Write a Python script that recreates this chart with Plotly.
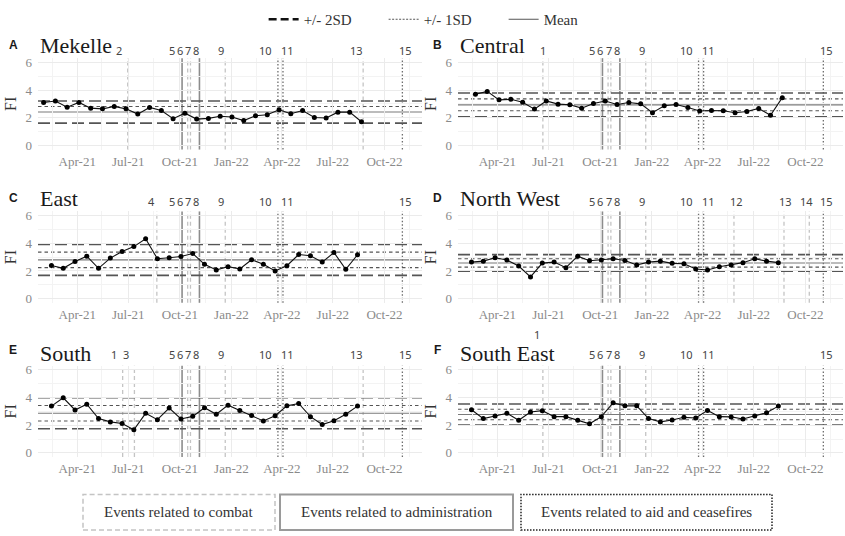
import pandas as pd
import plotly.graph_objects as go

# ---------------- data ----------------
regions = ["Mekelle", "Central", "East", "North West", "South", "South East"]
tags = ["A", "B", "C", "D", "E", "F"]
start_dates = ["2021-01-31", "2021-02-21", "2021-02-14", "2021-02-14", "2021-02-14", "2021-02-14"]
step_days = 21

fi_mekelle = [3.10, 3.21, 2.76, 3.10, 2.69, 2.64, 2.81, 2.64, 2.26, 2.74, 2.52, 1.93, 2.33, 1.90,
              1.95, 2.10, 2.05, 1.79, 2.14, 2.21, 2.57, 2.29, 2.52, 2.02, 1.98, 2.40, 2.40, 1.71]
fi_central = [3.69, 3.90, 3.29, 3.33, 3.12, 2.62, 3.21, 2.98, 2.93, 2.69, 3.02, 3.21, 2.95, 3.10,
              3.00, 2.36, 2.86, 2.95, 2.74, 2.48, 2.52, 2.50, 2.36, 2.45, 2.67, 2.17, 3.45]
fi_east = [2.40, 2.19, 2.69, 3.07, 2.19, 2.93, 3.40, 3.76, 4.33, 2.88, 2.95, 3.05, 3.26, 2.48,
           2.07, 2.31, 2.14, 2.81, 2.48, 2.00, 2.38, 3.19, 3.10, 2.64, 3.33, 2.12, 3.17]
fi_north_west = [2.64, 2.71, 2.95, 2.79, 2.36, 1.57, 2.57, 2.64, 2.24, 3.07, 2.74, 2.79, 2.88, 2.76,
                 2.43, 2.64, 2.71, 2.55, 2.52, 2.14, 2.07, 2.31, 2.43, 2.60, 2.88, 2.71, 2.60]
fi_south = [3.38, 3.98, 3.10, 3.52, 2.48, 2.24, 2.12, 1.67, 2.86, 2.40, 3.24, 2.45, 2.64, 3.26,
            2.79, 3.45, 3.07, 2.71, 2.31, 2.69, 3.40, 3.57, 2.62, 2.05, 2.33, 2.79, 3.38]
fi_south_east = [3.12, 2.48, 2.67, 2.86, 2.36, 2.95, 3.05, 2.62, 2.62, 2.36, 2.10, 2.62, 3.62, 3.40,
                 3.40, 2.48, 2.24, 2.38, 2.57, 2.52, 3.07, 2.62, 2.60, 2.45, 2.67, 2.90, 3.38]
fi_values = [fi_mekelle, fi_central, fi_east, fi_north_west, fi_south, fi_south_east]

mean_fi = [2.41, 2.93, 2.80, 2.58, 2.86, 2.77]
sd_fi = [0.40, 0.43, 0.56, 0.30, 0.56, 0.38]

event_ids = [1, 2, 3, 4, 5, 6, 7, 8, 9, 10, 11, 12, 13, 14, 15]
event_dates = ["2021-06-21", "2021-06-30", "2021-07-12", "2021-08-21", "2021-10-05", "2021-10-15",
               "2021-10-20", "2021-11-05", "2021-12-21", "2022-03-25", "2022-04-03", "2022-05-27",
               "2022-08-24", "2022-10-08", "2022-11-02"]
event_types = ["combat", "combat", "combat", "combat", "admin", "combat", "combat", "admin",
               "combat", "aid", "aid", "combat", "combat", "combat", "aid"]
region_events = [
    [2, 5, 6, 7, 8, 9, 10, 11, 13, 15],
    [1, 5, 6, 7, 8, 9, 10, 11, 15],
    [4, 5, 6, 7, 8, 9, 10, 11, 15],
    [5, 6, 7, 8, 9, 10, 11, 12, 13, 14, 15],
    [1, 3, 5, 6, 7, 8, 9, 10, 11, 13, 15],
    [1, 5, 6, 7, 8, 9, 10, 11, 15],
]
type_labels = {"combat": "Events related to combat",
               "admin": "Events related to administration",
               "aid": "Events related to aid and ceasefires"}

# ---------------- styling ----------------
W, H = 845, 536
SERIF = "Liberation Serif"
SANS = "Noto Sans"
x_range = ["2021-01-21", "2022-12-07"]
col_px = [(38, 422), (458, 843)]
row_px = [(55.8, 148.2), (210.8, 303.2), (366.8, 459.2)]
tag_px_x = [13, 437]
tag_px_y = [42, 197, 351]
label_yshift = [8, 10, 11]
label_xshift = {1: 0, 2: -9, 3: -8, 4: -5, 5: -10, 6: -8, 7: -2, 8: -3, 9: -4,
                10: -12, 11: 5, 12: 3, 13: -7, 14: -3, 15: 3}
label_override = {(3, 13): (2, None), (4, 1): (-9, None), (5, 1): (-6, 31)}
event_style = {"combat": dict(color="#c4c4c4", width=1.3, dash="4px,3px"),
               "admin": dict(color="#8c8c8c", width=1.6, dash="solid"),
               "aid": dict(color="#6e6e6e", width=1.3, dash="1.5px,2px")}
sd2_style = dict(color="#555555", width=1.6, dash="12px,5px")
sd1_style = dict(color="#555555", width=1.1, dash="3.5px,3px")
mean_style = dict(color="#7a7a7a", width=1.1, dash="solid")


def px_x(v):
    return v / W


def px_y(v):
    return 1 - v / H


fig = go.Figure()
layout = dict(width=W, height=H, margin=dict(l=0, r=0, t=0, b=0),
              paper_bgcolor="white", plot_bgcolor="white", showlegend=True)
shapes = []
annotations = []

for k, region in enumerate(regions):
    n = k + 1
    sfx = "" if n == 1 else str(n)
    xa, ya = "x" + sfx, "y" + sfx
    row, col = k // 2, k % 2
    x0p, x1p = col_px[col]
    ytp, ybp = row_px[row]
    layout["xaxis" + sfx] = dict(
        domain=[px_x(x0p), px_x(x1p)], anchor=ya, type="date", range=x_range,
        tick0="2021-01-01", dtick="M3", tickformat="%b-%y",
        showgrid=True, gridcolor="#ebebeb", gridwidth=1, zeroline=False,
        showline=False, ticks="", ticklabelstandoff=2,
        tickfont=dict(family=SERIF, size=13, color="#8a8a8a"),
        minor=dict(tick0="2021-02-15", dtick="M3", showgrid=True, gridcolor="#f3f3f3", gridwidth=0.8),
    )
    layout["yaxis" + sfx] = dict(
        domain=[px_y(ybp), px_y(ytp)], anchor=xa, range=[-0.3, 6.3],
        tickvals=[0, 2, 4, 6], showgrid=True, gridcolor="#ebebeb", gridwidth=1,
        zeroline=False, showline=False, ticks="", ticklabelstandoff=5,
        tickfont=dict(family=SERIF, size=13, color="#8a8a8a"),
        minor=dict(tickvals=[1, 3, 5], showgrid=True, gridcolor="#f3f3f3", gridwidth=0.8),
        title=dict(text="FI", font=dict(family=SERIF, size=16, color="#333333"), standoff=4),
    )

    # event lines
    for ev in region_events[k]:
        i = event_ids.index(ev)
        st = event_style[event_types[i]]
        shapes.append(dict(type="line", xref=xa, yref=ya + " domain", x0=event_dates[i], x1=event_dates[i],
                           y0=0, y1=1, layer="below", line=st))
        xs, ys = label_xshift[ev], label_yshift[row]
        if (k, ev) in label_override:
            ox, oy = label_override[(k, ev)]
            xs = ox if ox is not None else xs
            ys = oy if oy is not None else ys
        annotations.append(dict(text=str(ev), xref=xa, yref=ya + " domain", x=event_dates[i], y=1,
                                xanchor="center", yanchor="middle", xshift=xs, yshift=ys, showarrow=False,
                                font=dict(family=SANS, size=11, color="#444444")))

    # mean / SD lines
    m, s = mean_fi[k], sd_fi[k]
    for yv, st in [(m + 2 * s, sd2_style), (m - 2 * s, sd2_style), (m + s, sd1_style),
                   (m - s, sd1_style), (m, mean_style)]:
        shapes.append(dict(type="line", xref=xa + " domain", yref=ya, x0=0, x1=1, y0=yv, y1=yv,
                           layer="below", line=st))

    dates = pd.date_range(start_dates[k], periods=len(fi_values[k]), freq=f"{step_days}D")
    fig.add_trace(go.Scatter(x=dates, y=fi_values[k], mode="lines+markers", xaxis=xa, yaxis=ya,
                             line=dict(color="#111111", width=1.1),
                             marker=dict(color="#000000", size=5), showlegend=False,
                             hoverinfo="x+y"))

    # title and tag
    annotations.append(dict(text=region, xref=xa + " domain", yref=ya + " domain", x=0, y=1,
                            xanchor="left", yanchor="bottom", yshift=-2, showarrow=False,
                            font=dict(family=SERIF, size=22, color="#1a1a1a")))
    annotations.append(dict(text="<b>" + tags[k] + "</b>", xref="paper", yref="paper",
                            x=px_x(tag_px_x[col]), y=px_y(tag_px_y[row]), xanchor="center",
                            yanchor="middle", showarrow=False,
                            font=dict(family="Liberation Sans", size=12, color="#1a1a1a")))

# legend entries
for name, st in [("+/- 2SD", dict(color="#111111", width=2.4, dash="8px,4px")),
                 ("+/- 1SD", dict(color="#555555", width=1, dash="2px,1.5px")),
                 ("Mean", dict(color="#555555", width=1, dash="solid"))]:
    fig.add_trace(go.Scatter(x=[None], y=[None], mode="lines", name=name, line=st,
                             xaxis="x", yaxis="y", showlegend=True))

layout["legend"] = dict(orientation="h", x=0.525, xanchor="center", y=1.0, yanchor="top",
                        font=dict(family=SERIF, size=15, color="#333333"),
                        bgcolor="rgba(0,0,0,0)", itemwidth=30, entrywidth=75, tracegroupgap=0)

# bottom event-type boxes
box_px = {"combat": (83, 275), "admin": (280, 513), "aid": (521, 772)}
box_line = {"combat": dict(color="#c4c4c4", width=1.5, dash="5px,3px"),
            "admin": dict(color="#9a9a9a", width=2, dash="solid"),
            "aid": dict(color="#222222", width=1.5, dash="1.5px,1.5px")}
for t in ["combat", "admin", "aid"]:
    bx0, bx1 = box_px[t]
    shapes.append(dict(type="rect", xref="paper", yref="paper", x0=px_x(bx0), x1=px_x(bx1),
                       y0=px_y(533), y1=px_y(497), line=box_line[t], fillcolor="white"))
    annotations.append(dict(text=type_labels[t], xref="paper", yref="paper",
                            x=px_x((bx0 + bx1) / 2), y=px_y(515), xanchor="center", yanchor="middle",
                            showarrow=False, font=dict(family=SERIF, size=15, color="#333333")))

layout["shapes"] = shapes
layout["annotations"] = annotations
fig.update_layout(**layout)

fig.write_html("out.html", config={"displayModeBar": False},
               post_script="document.body.style.margin='0';")
